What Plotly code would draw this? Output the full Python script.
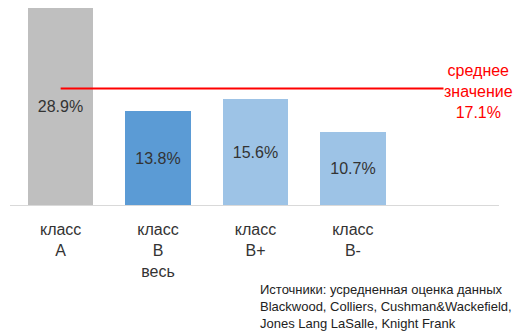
import plotly.graph_objects as go

# Vacancy by office class
categories = ["класс<br>A", "класс<br>B<br>весь", "класс<br>B+", "класс<br>B-"]
values = [28.9, 13.8, 15.6, 10.7]
bar_colors = ["#BFBFBF", "#5B9BD5", "#9DC3E6", "#9DC3E6"]
mean_value = 17.1
mean_span = [0, 3.93]

FONT = "Liberation Sans Narrow, Arial Narrow, Liberation Sans, Arial, sans-serif"
xs = list(range(len(categories)))

fig = go.Figure()
fig.add_trace(go.Bar(
    x=xs, y=values, width=0.67,
    marker=dict(color=bar_colors, line=dict(width=0)),
    text=[f"{v:.1f}%" for v in values],
    textposition="inside", insidetextanchor="middle",
    textfont=dict(family=FONT, size=16, color="#333333"),
    hoverinfo="skip",
))
fig.add_trace(go.Scatter(
    x=mean_span, y=[mean_value, mean_value], mode="lines",
    line=dict(color="#FF0000", width=2), hoverinfo="skip",
))
fig.add_annotation(
    x=4.29, y=16.7, xref="x", yref="y",
    text=f"среднее<br>значение<br>{mean_value:.1f}%",
    showarrow=False, align="center",
    font=dict(family=FONT, size=16, color="#FF0000"),
)
fig.add_annotation(
    x=(258 - 10) / 489, y=-128 / 205, xref="paper", yref="paper",
    text="Источники: усредненная оценка данных<br>Blackwood, Colliers, Cushman&Wackefield,<br>Jones Lang LaSalle, Knight Frank",
    showarrow=False, align="left", xanchor="left", yanchor="bottom",
    font=dict(family=FONT, size=13, color="#222222"),
)

fig.update_layout(
    width=517, height=336,
    margin=dict(l=10, r=18, t=0, b=131),
    paper_bgcolor="white", plot_bgcolor="white",
    showlegend=False, bargap=0,
    xaxis=dict(range=[-0.52, 4.5], tickvals=xs, ticktext=categories,
               showgrid=False, zeroline=False, showline=True,
               linecolor="#D9D9D9", linewidth=1, ticks="",
               ticklabelstandoff=10,
               tickfont=dict(family=FONT, size=16, color="#333333")),
    yaxis=dict(range=[0, 30.06], visible=False),
)
fig.write_html("out.html")
